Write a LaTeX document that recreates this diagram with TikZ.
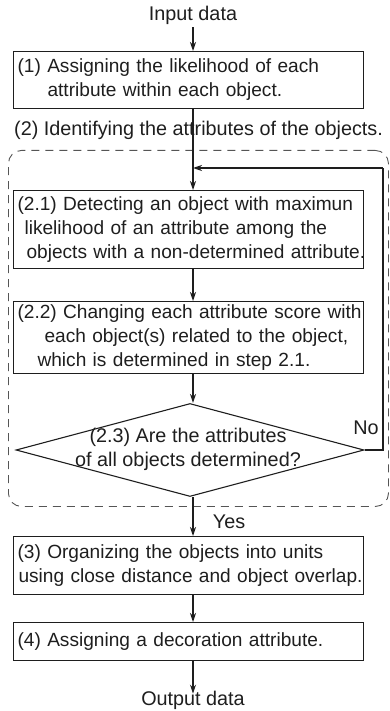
\documentclass[tikz,border=0pt]{standalone}
\usepackage{fontspec}
\setmainfont{Liberation Sans}
\usetikzlibrary{arrows.meta,shapes.geometric}
\definecolor{ink}{HTML}{1E1E1E}
\definecolor{dashgray}{HTML}{555555}
\newcommand{\boxline}[2][0pt]{\hspace*{#1}\mbox{#2}}
\tikzset{
  every node/.style={text=ink},
  txt/.style={font=\fontsize{19.8}{24}\selectfont, inner sep=0pt},
  stepbox/.style={draw=ink, line width=1.1pt, anchor=north west, text width=342pt,
    inner xsep=4pt, inner ysep=0pt, align=left, font=\fontsize{19.1}{24}\selectfont},
  dia/.style={draw=ink, line width=1.1pt, diamond, minimum width=348pt, minimum height=93pt, inner sep=0pt},
  arr/.style={draw=ink, line width=1.1pt, -{Stealth[length=9pt,width=6pt]}},
  lnk/.style={draw=ink, line width=1.1pt},
  grp/.style={draw=dashgray, line width=0.9pt, dash pattern=on 8pt off 6pt, rounded corners=13pt}
}
\begin{document}
\begin{tikzpicture}[x=1pt,y=-1pt]
\useasboundingbox (0,0) rectangle (389,711);
% group
\node[grp, anchor=north west, minimum width=380pt, minimum height=356pt, inner sep=0pt] (grp) at (8,150) {};
\node[txt, anchor=west] (lab2) at (14,130) {(2) Identifying the attributes of the objects.};
% texts
\node[txt] (in) at (193,15) {Input data};
\node[txt] (out) at (193,700) {Output data};
% boxes
\node[stepbox, minimum height=57pt] (b1) at (13,51) {\boxline{(1) Assigning the likelihood of each}\\\boxline[30pt]{attribute within each object.}};
\node[stepbox, minimum height=78pt] (b21) at (13,190) {\boxline{(2.1) Detecting an object with maximun}\\\boxline[7pt]{likelihood of an attribute among the}\\\boxline[9pt]{objects with a non-determined attribute.}};
\node[stepbox, minimum height=72pt] (b22) at (13,301) {\boxline{(2.2) Changing each attribute score with}\\\boxline[27pt]{each object(s) related to the object,}\\\boxline[20pt]{which is determined in step 2.1.}};
\node[dia] (d) at (190,450) {};
\node[txt, align=center] (dt) at (188,449) {(2.3) Are the attributes\\of all objects determined?};
\node[stepbox, minimum height=58pt] (b3) at (13,536) {\boxline{(3) Organizing the objects into units}\\\boxline[1pt]{using close distance and object overlap.}};
\node[stepbox, minimum height=38pt] (b4) at (13,622) {\boxline{(4) Assigning a decoration attribute.}};
\node[txt] (no) at (366,428) {No};
\node[txt] (yes) at (229,522) {Yes};
% helper coordinates
\coordinate (cx) at (193,0);
\coordinate (j) at (193,168);
\coordinate (lp1) at (383,450);
\coordinate (lp2) at (383,168);
% connectors
\draw[arr] (in.south -| cx) ++(0,3) -- (b1.north -| cx);
\draw[arr] (b1.south -| cx) -- (b21.north -| cx);
\draw[arr] (b21.south -| cx) -- (b22.north -| cx);
\draw[arr] (b22.south -| cx) -- (d.north -| cx);
\draw[arr] (d.south -| cx) -- (b3.north -| cx);
\draw[arr] (b3.south -| cx) -- (b4.north -| cx);
\draw[arr] (b4.south -| cx) -- ([yshift=-3pt]out.north -| cx);
\draw[lnk] (d.east) -- (lp1) -- (lp2);
\draw[arr] (lp2) -- (j);
\end{tikzpicture}
\end{document}
